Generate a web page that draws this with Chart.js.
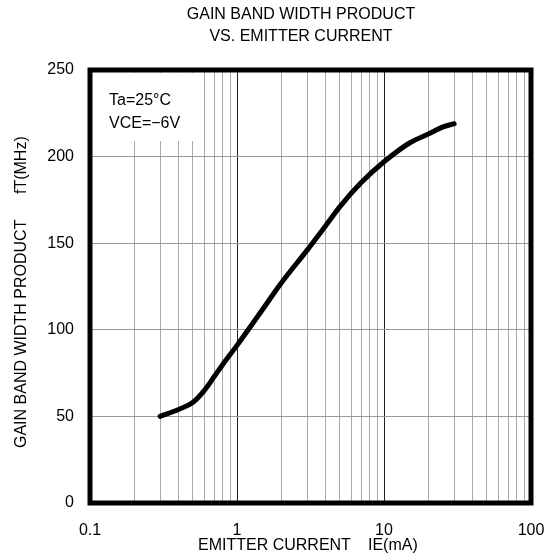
<!DOCTYPE html>
<html>
<head>
<meta charset="utf-8">
<title>GAIN BAND WIDTH PRODUCT VS. EMITTER CURRENT</title>
<script src="https://cdn.jsdelivr.net/npm/chart.js@4/dist/chart.umd.min.js"></script>
<style>
  html, body { margin: 0; padding: 0; background: #fff; }
  #wrap { width: 553px; height: 557px; }
</style>
</head>
<body>
<div id="wrap"><canvas id="chart" width="553" height="557"></canvas></div>
<script>
// emitter current IE (mA) and transition frequency fT (MHz)
const currentMA = [0.3, 0.4, 0.5, 0.6, 0.7, 0.8, 1, 1.5, 2, 3, 4, 5, 7, 10, 15, 20, 25, 30];
const gainMHz = [50, 54, 58, 65, 73, 80, 91, 112, 127, 146, 160, 171, 185, 197, 208, 213, 217, 219];

const decades = [0.1, 1, 10, 100];
const yTicks = [0, 50, 100, 150, 200, 250];
const conditions = ['Ta=25°C', 'VCE=\u22126V'];

const FONT = '"Liberation Sans", Arial, sans-serif';

// 1..9 lines in every decade for the log grid
const xGrid = [];
decades.slice(0, -1).forEach(d => {
  for (let i = 1; i <= 9; i++) xGrid.push(+(d * i).toPrecision(3));
});
xGrid.push(decades[decades.length - 1]);

const isDecade = v => decades.some(d => Math.abs(d - v) < 1e-9);

const decorations = {
  id: 'decorations',
  beforeDatasetsDraw(chart) {
    const ctx = chart.ctx;
    const a = chart.chartArea;
    // conditions box over the grid
    ctx.save();
    ctx.fillStyle = '#fff';
    ctx.fillRect(a.left + 3, a.top + 3, 104, 68);
    ctx.fillStyle = '#000';
    ctx.font = '16px ' + FONT;
    ctx.textAlign = 'left';
    ctx.textBaseline = 'middle';
    ctx.fillText(conditions[0], a.left + 19, a.top + 31);
    ctx.fillText(conditions[1], a.left + 19, a.top + 54);
    ctx.restore();
  },
  afterDraw(chart) {
    const ctx = chart.ctx;
    const a = chart.chartArea;
    ctx.save();
    ctx.strokeStyle = '#000';
    ctx.lineWidth = 5;
    ctx.strokeRect(a.left, a.top, a.right - a.left, a.bottom - a.top);

    ctx.fillStyle = '#000';
    ctx.font = '16px ' + FONT;
    ctx.textBaseline = 'middle';
    ctx.textAlign = 'center';
    ctx.fillText('GAIN BAND WIDTH PRODUCT', 301, 15);
    ctx.fillText('VS. EMITTER CURRENT', 301, 37);

    ctx.textAlign = 'left';
    ctx.fillText('EMITTER CURRENT', 198, 546);
    ctx.fillText('IE(mA)', 368, 546);

    ctx.translate(22, 0);
    ctx.rotate(-Math.PI / 2);
    ctx.fillText('GAIN BAND WIDTH PRODUCT', -448, 0);
    ctx.fillText('fT(MHz)', -194, 0);
    ctx.restore();
  }
};

new Chart(document.getElementById('chart'), {
  type: 'line',
  data: {
    datasets: [{
      data: currentMA.map((x, i) => ({ x, y: gainMHz[i] })),
      borderColor: '#000',
      borderWidth: 5,
      pointRadius: 0,
      cubicInterpolationMode: 'monotone',
      borderCapStyle: 'round',
      borderJoinStyle: 'round'
    }]
  },
  options: {
    responsive: false,
    animation: false,
    layout: { padding: { top: 70, right: 22, left: 0, bottom: 0 } },
    plugins: {
      legend: { display: false },
      tooltip: { enabled: false }
    },
    scales: {
      x: {
        type: 'logarithmic',
        min: 0.1,
        max: 100,
        afterBuildTicks: scale => { scale.ticks = xGrid.map(value => ({ value })); },
        afterFit: scale => {
          scale.height = 54;
          scale.paddingLeft = 0;
          scale.paddingRight = 0;
        },
        border: { display: false },
        grid: {
          drawTicks: false,
          color: c => isDecade(c.tick.value) ? '#222' : '#aaa',
          lineWidth: 1
        },
        ticks: {
          autoSkip: false,
          maxRotation: 0,
          padding: 18,
          color: '#000',
          font: { family: FONT, size: 16 },
          callback: v => isDecade(v) ? String(v) : ''
        }
      },
      y: {
        min: 0,
        max: 250,
        afterBuildTicks: scale => { scale.ticks = yTicks.map(value => ({ value })); },
        afterFit: scale => { scale.width = 90; },
        border: { display: false },
        grid: { drawTicks: false, color: '#999', lineWidth: 1 },
        ticks: {
          padding: 16,
          color: '#000',
          font: { family: FONT, size: 16 }
        }
      }
    }
  },
  plugins: [decorations]
});
</script>
</body>
</html>
